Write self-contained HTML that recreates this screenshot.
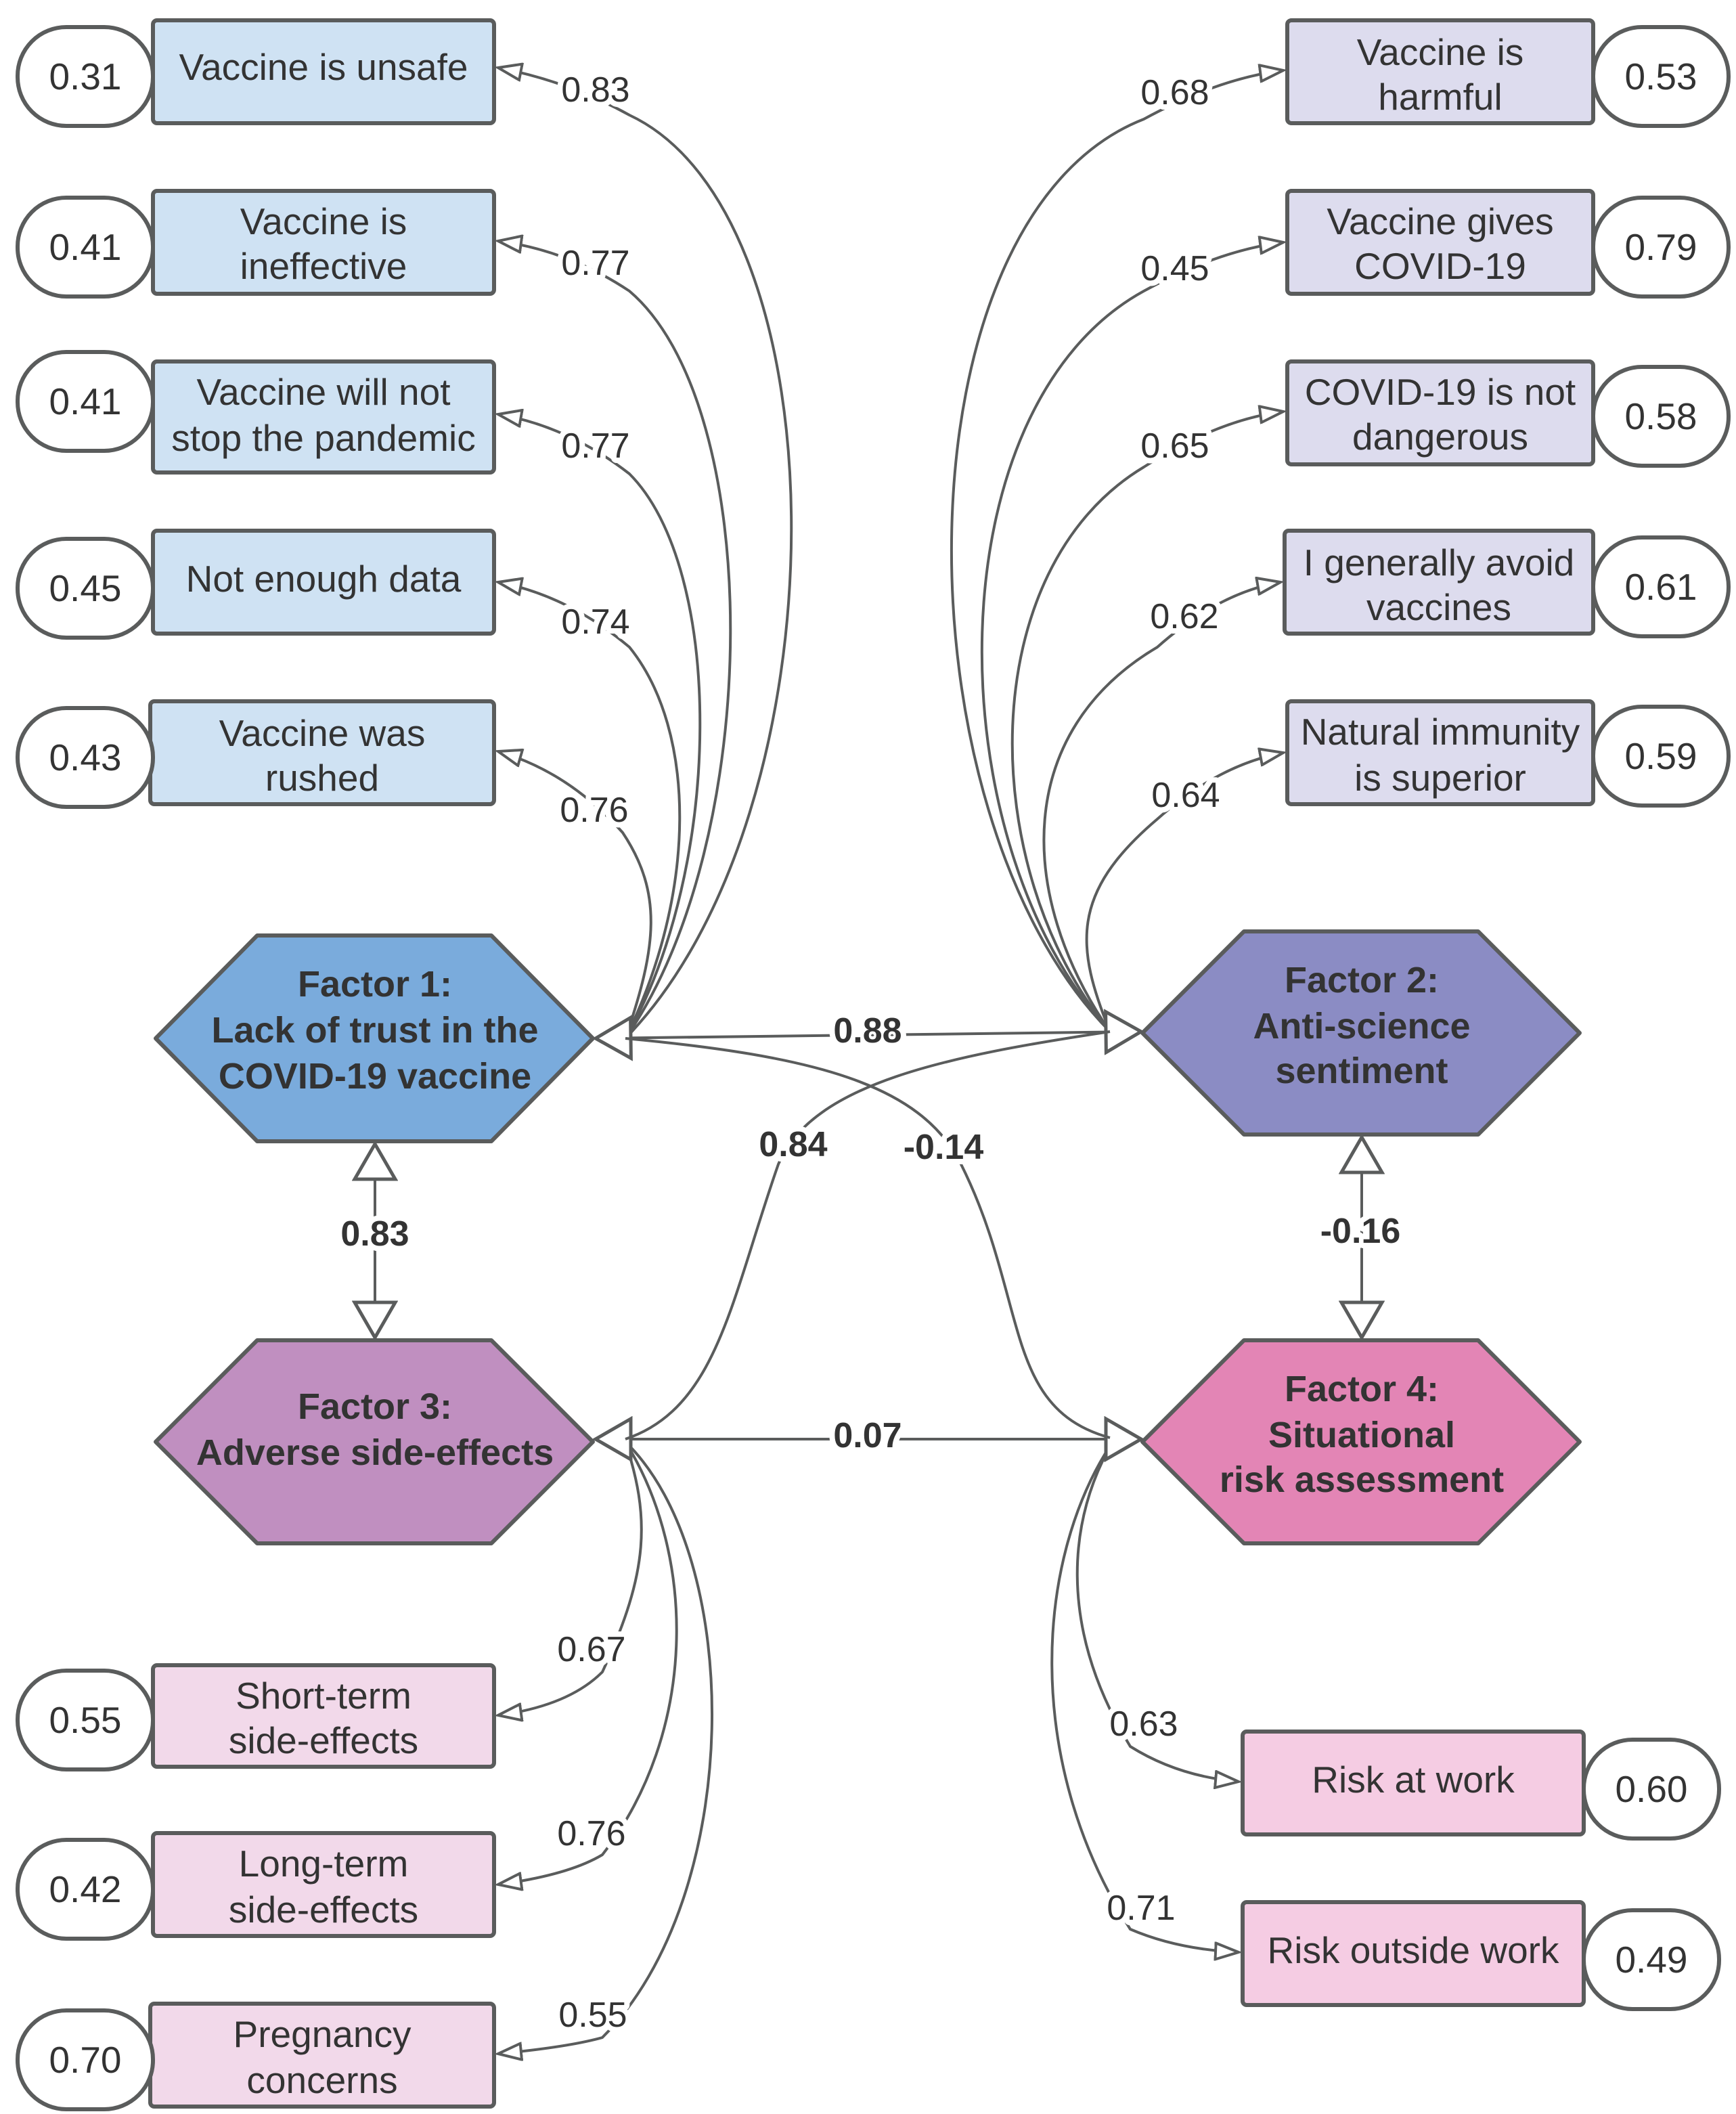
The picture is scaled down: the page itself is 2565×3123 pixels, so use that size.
<!DOCTYPE html>
<html><head><meta charset="utf-8"><style>
html,body{margin:0;padding:0;background:#fff}
svg{display:block}
text{font-family:"Liberation Sans",sans-serif;fill:#333}
.t{font-size:27.5px;text-anchor:middle}
.b{font-size:27px;font-weight:bold;text-anchor:middle}
.l{font-size:26px;text-anchor:middle;stroke:#fff;stroke-width:8px;paint-order:stroke;stroke-linejoin:round}
.lb{font-size:26px;font-weight:bold;text-anchor:middle;stroke:#fff;stroke-width:8px;paint-order:stroke;stroke-linejoin:round}
.c{fill:none;stroke:#5a5c5c;stroke-width:2}
.box{stroke:#5a5c5c;stroke-width:3}
</style></head><body>
<svg width="2565" height="3123" viewBox="0 0 1282.5 1561.5" xmlns="http://www.w3.org/2000/svg">
<defs>
<marker id="a" markerWidth="20" markerHeight="14" refX="18" refY="7" orient="auto" markerUnits="userSpaceOnUse">
<path d="M1,1 L18,7 L1,13 Z" fill="#fff" stroke="#5a5c5c" stroke-width="2"/></marker>
<marker id="A" markerWidth="30" markerHeight="34" refX="28" refY="17" orient="auto" markerUnits="userSpaceOnUse">
<path d="M2,2 L28,17 L2,32 Z" fill="#fff" stroke="#5a5c5c" stroke-width="2.5"/></marker>
<marker id="As" markerWidth="30" markerHeight="34" refX="2" refY="17" orient="auto" markerUnits="userSpaceOnUse">
<path d="M28,2 L2,17 L28,32 Z" fill="#fff" stroke="#5a5c5c" stroke-width="2.5"/></marker>
</defs>

<path class="c" marker-end="url(#a)" d="M462,767 C625,600 625,160 465,85 Q420,60 368,50"/>
<path class="c" marker-end="url(#a)" d="M462,767 C565,620 565,300 465,215 Q420,185 368,178"/>
<path class="c" marker-end="url(#a)" d="M462,767 C535,640 535,420 465,350 Q420,315 368,306"/>
<path class="c" marker-end="url(#a)" d="M462,767 C515,660 515,540 465,478 Q420,440 368,430"/>
<path class="c" marker-end="url(#a)" d="M462,767 C485,700 490,660 460,615 Q420,570 368,555"/>
<path class="c" marker-end="url(#a)" d="M820,762 C660,600 660,160 845,88 Q900,58 948,52"/>
<path class="c" marker-end="url(#a)" d="M820,762 C690,620 690,300 845,215 Q900,185 948,179"/>
<path class="c" marker-end="url(#a)" d="M820,762 C720,640 720,420 845,345 Q900,310 948,304"/>
<path class="c" marker-end="url(#a)" d="M820,762 C750,660 750,540 855,478 Q900,438 946,430"/>
<path class="c" marker-end="url(#a)" d="M820,762 C795,700 790,660 855,605 Q900,565 948,556"/>
<path class="c" marker-end="url(#a)" d="M462,1065 C480,1120 480,1160 445,1235 Q420,1260 368,1267"/>
<path class="c" marker-end="url(#a)" d="M462,1065 C515,1150 515,1280 445,1370 Q420,1385 368,1392"/>
<path class="c" marker-end="url(#a)" d="M462,1065 C550,1150 550,1400 445,1505 Q420,1512 368,1517"/>
<path class="c" marker-end="url(#a)" d="M822,1065 C790,1120 780,1200 835,1290 Q870,1312 915,1316"/>
<path class="c" marker-end="url(#a)" d="M822,1065 C765,1150 755,1300 835,1425 Q870,1440 915,1442"/>
<path class="c" stroke-width="2.5" marker-start="url(#As)" marker-end="url(#A)" d="M440,767 L843,762"/>
<path class="c" stroke-width="2.5" marker-start="url(#As)" marker-end="url(#A)" d="M440,1063 L843,1063"/>
<path class="c" d="M462,767 C600,780 680,800 710,860 C760,960 740,1040 820,1062"/>
<path class="c" d="M820,762 C700,780 600,800 575,860 C540,960 530,1040 462,1063"/>
<path class="c" stroke-width="2.5" marker-start="url(#As)" marker-end="url(#A)" d="M277,845 L277,988"/>
<path class="c" stroke-width="2.5" marker-start="url(#As)" marker-end="url(#A)" d="M1006,840 L1006,988"/>

<polygon class="box" fill="#7aabdc" stroke-linejoin="round" points="115,767 190,691 363,691 438,767 363,843 190,843"/>
<polygon class="box" fill="#8b8cc4" stroke-linejoin="round" points="844,763 919,688 1092,688 1167,763 1092,838 919,838"/>
<polygon class="box" fill="#c08fc0" stroke-linejoin="round" points="115,1065 190,990 363,990 438,1065 363,1140 190,1140"/>
<polygon class="box" fill="#e385b5" stroke-linejoin="round" points="844,1065 919,990 1092,990 1167,1065 1092,1140 919,1140"/>
<text class="b" x="277" y="736">Factor 1:</text>
<text class="b" x="277" y="770">Lack of trust in the</text>
<text class="b" x="277" y="804">COVID-19 vaccine</text>
<text class="b" x="1006" y="733">Factor 2:</text>
<text class="b" x="1006" y="767">Anti-science</text>
<text class="b" x="1006" y="800">sentiment</text>
<text class="b" x="277" y="1048">Factor 3:</text>
<text class="b" x="277" y="1082">Adverse side-effects</text>
<text class="b" x="1006" y="1035">Factor 4:</text>
<text class="b" x="1006" y="1069">Situational</text>
<text class="b" x="1006" y="1102">risk assessment</text>

<g class="box">
<rect x="113" y="15" width="252" height="76" rx="3" fill="#cfe2f3"/>
<rect x="113" y="141" width="252" height="76" rx="3" fill="#cfe2f3"/>
<rect x="113" y="267" width="252" height="82" rx="3" fill="#cfe2f3"/>
<rect x="113" y="392" width="252" height="76" rx="3" fill="#cfe2f3"/>
<rect x="111" y="518" width="254" height="76" rx="3" fill="#cfe2f3"/>
<rect x="951" y="15" width="226" height="76" rx="3" fill="#dddcee"/>
<rect x="951" y="141" width="226" height="76" rx="3" fill="#dddcee"/>
<rect x="951" y="267" width="226" height="76" rx="3" fill="#dddcee"/>
<rect x="949" y="392" width="228" height="76" rx="3" fill="#dddcee"/>
<rect x="951" y="518" width="226" height="76" rx="3" fill="#dddcee"/>
<rect x="113" y="1230" width="252" height="75" rx="3" fill="#f2d9ea"/>
<rect x="113" y="1354" width="252" height="76" rx="3" fill="#f2d9ea"/>
<rect x="111" y="1480" width="254" height="76" rx="3" fill="#f2d9ea"/>
<rect x="918" y="1279" width="252" height="76" rx="3" fill="#f5cce3"/>
<rect x="918" y="1405" width="252" height="76" rx="3" fill="#f5cce3"/>
<rect x="13" y="20" width="100" height="73" rx="36" fill="#fff"/>
<rect x="13" y="146" width="100" height="73" rx="36" fill="#fff"/>
<rect x="13" y="260" width="100" height="73" rx="36" fill="#fff"/>
<rect x="13" y="398" width="100" height="73" rx="36" fill="#fff"/>
<rect x="13" y="523" width="100" height="73" rx="36" fill="#fff"/>
<rect x="1177" y="20" width="100" height="73" rx="36" fill="#fff"/>
<rect x="1177" y="146" width="100" height="73" rx="36" fill="#fff"/>
<rect x="1177" y="271" width="100" height="73" rx="36" fill="#fff"/>
<rect x="1177" y="397" width="100" height="73" rx="36" fill="#fff"/>
<rect x="1177" y="522" width="100" height="73" rx="36" fill="#fff"/>
<rect x="13" y="1234" width="100" height="73" rx="36" fill="#fff"/>
<rect x="13" y="1359" width="100" height="73" rx="36" fill="#fff"/>
<rect x="13" y="1485" width="100" height="73" rx="36" fill="#fff"/>
<rect x="1170" y="1285" width="100" height="73" rx="36" fill="#fff"/>
<rect x="1170" y="1411" width="100" height="73" rx="36" fill="#fff"/>
</g>
<text class="t" x="239" y="59">Vaccine is unsafe</text>
<text class="t" x="239" y="173">Vaccine is</text><text class="t" x="239" y="206">ineffective</text>
<text class="t" x="239" y="299">Vaccine will not</text><text class="t" x="239" y="333">stop the pandemic</text>
<text class="t" x="239" y="437">Not enough data</text>
<text class="t" x="238" y="551">Vaccine was</text><text class="t" x="238" y="584">rushed</text>
<text class="t" x="1064" y="48">Vaccine is</text><text class="t" x="1064" y="81">harmful</text>
<text class="t" x="1064" y="173">Vaccine gives</text><text class="t" x="1064" y="206">COVID-19</text>
<text class="t" x="1064" y="299">COVID-19 is not</text><text class="t" x="1064" y="332">dangerous</text>
<text class="t" x="1063" y="425">I generally avoid</text><text class="t" x="1063" y="458">vaccines</text>
<text class="t" x="1064" y="550">Natural immunity</text><text class="t" x="1064" y="584">is superior</text>
<text class="t" x="239" y="1262">Short-term</text><text class="t" x="239" y="1295">side-effects</text>
<text class="t" x="239" y="1386">Long-term</text><text class="t" x="239" y="1420">side-effects</text>
<text class="t" x="238" y="1512">Pregnancy</text><text class="t" x="238" y="1546">concerns</text>
<text class="t" x="1044" y="1324">Risk at work</text>
<text class="t" x="1044" y="1450">Risk outside work</text>

<text class="t" x="63" y="66">0.31</text><text class="t" x="63" y="192">0.41</text><text class="t" x="63" y="306">0.41</text>
<text class="t" x="63" y="444">0.45</text><text class="t" x="63" y="569">0.43</text>
<text class="t" x="1227" y="66">0.53</text><text class="t" x="1227" y="192">0.79</text><text class="t" x="1227" y="317">0.58</text>
<text class="t" x="1227" y="443">0.61</text><text class="t" x="1227" y="568">0.59</text>
<text class="t" x="63" y="1280">0.55</text><text class="t" x="63" y="1405">0.42</text><text class="t" x="63" y="1531">0.70</text>
<text class="t" x="1220" y="1331">0.60</text><text class="t" x="1220" y="1457">0.49</text>

<text class="l" x="440" y="75">0.83</text><text class="l" x="440" y="203">0.77</text><text class="l" x="440" y="338">0.77</text>
<text class="l" x="440" y="468">0.74</text><text class="l" x="439" y="607">0.76</text>
<text class="l" x="868" y="77">0.68</text><text class="l" x="868" y="207">0.45</text><text class="l" x="868" y="338">0.65</text>
<text class="l" x="875" y="464">0.62</text><text class="l" x="876" y="596">0.64</text>
<text class="l" x="437" y="1227">0.67</text><text class="l" x="437" y="1363">0.76</text><text class="l" x="438" y="1497">0.55</text>
<text class="l" x="845" y="1282">0.63</text><text class="l" x="843" y="1418">0.71</text>
<text class="lb" x="641" y="770">0.88</text>
<text class="lb" x="641" y="1069">0.07</text>
<text class="lb" x="586" y="854">0.84</text>
<text class="lb" x="697" y="856">-0.14</text>
<text class="lb" x="277" y="920">0.83</text>
<text class="lb" x="1005" y="918">-0.16</text>
</svg>
</body></html>
